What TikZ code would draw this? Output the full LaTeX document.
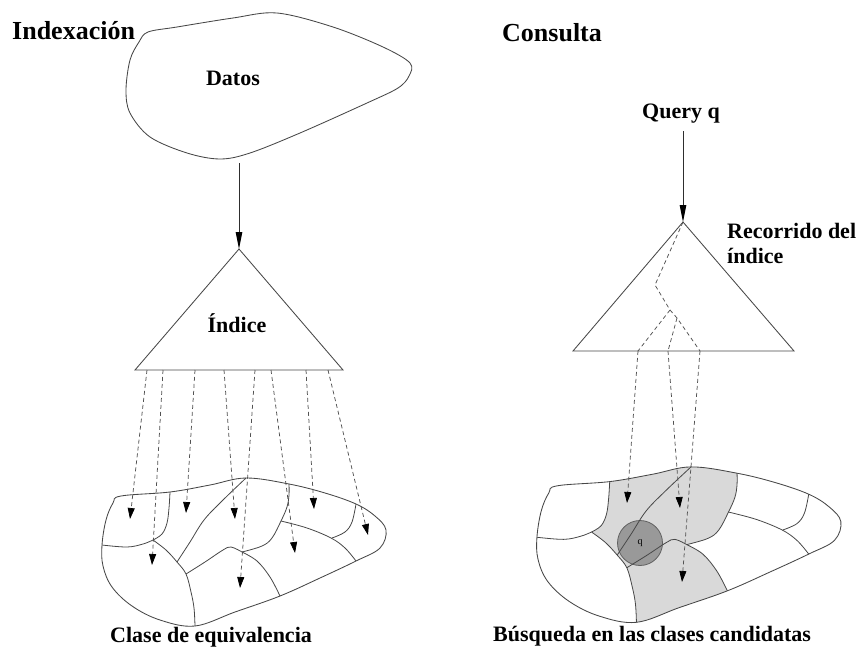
\documentclass[tikz,border=0pt]{standalone}
\usepackage{fontspec}
\setmainfont{Liberation Serif}
\usetikzlibrary{arrows.meta}

% Partition of the data space into equivalence classes (outline and cell borders)
\newcommand\blobclip{%
  \clip plot[smooth cycle, tension=0.6] coordinates {(121,496) (170,492) (210,485) (246,478) (289,484) (325,493) (356,504) (375,516) (386,530) (380,548) (356,561) (320,578) (280,596) (235,612) (195,626) (160,620) (132,606) (112,587) (103,566) (102,545) (106,520) (113,503)};}
\newcommand\blobcells{%
  \draw[outline] plot[smooth cycle, tension=0.6] coordinates {(121,496) (170,492) (210,485) (246,478) (289,484) (325,493) (356,504) (375,516) (386,530) (380,548) (356,561) (320,578) (280,596) (235,612) (195,626) (160,620) (132,606) (112,587) (103,566) (102,545) (106,520) (113,503)};
  \draw[cell] plot[smooth, tension=0.6] coordinates {(170,492) (169,508) (167,523) (162,534) (153,540)};
  \draw[cell] plot[smooth, tension=0.6] coordinates {(102,545) (127,547) (143,544) (153,540)};
  \draw[cell] plot[smooth, tension=0.6] coordinates {(153,540) (166,550) (177,562) (186,574) (191,592) (194,608) (195,626)};
  \draw[cell] plot[smooth, tension=0.6] coordinates {(246,478) (222,501) (204,520) (190,542) (177,562)};
  \draw[cell] plot[smooth, tension=0.6] coordinates {(186,574) (205,562) (223,550) (231,547) (242,552)};
  \draw[cell] plot[smooth, tension=0.6] coordinates {(242,552) (257,561) (270,577) (280,596)};
  \draw[cell] plot[smooth, tension=0.6] coordinates {(242,552) (262,546) (272,538) (281,521) (287,507) (289,495) (289,484)};
  \draw[cell] plot[smooth, tension=0.6] coordinates {(281,521) (307,528) (331,538) (345,548) (356,561)};
  \draw[cell] plot[smooth, tension=0.6] coordinates {(332,538) (345,532) (352,522) (356,504)};
}

\begin{document}
\begin{tikzpicture}[x=1pt, y=-1pt,
  outline/.style={draw=black!72, line width=0.85pt},
  cell/.style={draw=black!72, line width=0.8pt},
  candidate/.style={fill=black!15},
  flow/.style={draw=black!82, line width=0.9pt, -{Triangle[length=17pt, width=6.5pt, color=black]}},
  probe/.style={draw=black!68, line width=0.75pt, dash pattern=on 4pt off 3pt, -{Triangle[length=11pt, width=7pt, color=black]}},
  walk/.style={draw=black!68, line width=0.75pt, dash pattern=on 4pt off 3pt},
  heading/.style={font=\fontsize{26}{30}\selectfont\bfseries, inner sep=0pt},
  caption/.style={font=\fontsize{22}{26}\selectfont\bfseries, inner sep=0pt},
  rightblob/.style={shift={(427.8,-35)}, xscale=1.07, yscale=1.05},
]
\useasboundingbox (0,0) rectangle (859,648);

% ---------- headings ----------
\node[heading, anchor=base west] (hidx) at (12,39) {Indexación};
\node[heading, anchor=base west] (hqry) at (502,41) {Consulta};

% ---------- data set ----------
\draw[outline] plot[smooth cycle, tension=0.55] coordinates {(148,32) (177,27) (233,18) (277,13) (333,27) (383,47) (410,63) (409,76) (398,88) (367,103) (300,133) (250,153) (220,159) (187,153) (150,137) (130,113) (126,90) (130,60) (139,42)};
\node[caption, anchor=base] (datos) at (233,85) {Datos};
\coordinate (datosout) at (239,163);

% ---------- index (left) ----------
\coordinate (ia) at (239,249);
\coordinate (il) at (135,370);
\coordinate (ir) at (343,370);
\draw[outline] (ia) -- (il) -- (ir) -- cycle;
\node[caption, anchor=base] (indice) at (237,332) {Índice};
\draw[flow] (datosout) -- (ia);

% leaves of the index pointing to their classes
\foreach \i/\sx/\tx/\ty in {1/147/130/519, 2/163/152/565, 3/195/186/513, 4/224/235/519,
                            5/255/240/588, 6/271/295/553, 7/306/314/509, 8/328/368/535} {
  \coordinate (leaf\i) at (\sx,370);
  \coordinate (cls\i) at (\tx,\ty);
}

% ---------- equivalence classes (left) ----------
\blobcells
\foreach \i in {1,...,8} { \draw[probe] (leaf\i) -- (cls\i); }
\node[caption, anchor=base west] (clase) at (110,642) {Clase de equivalencia};

% ---------- query (right) ----------
\node[caption, anchor=base] (query) at (681,118) {Query q};
\coordinate (qout) at (683,131);
\coordinate (qa) at (683,222);
\coordinate (ql) at (573,351);
\coordinate (qr) at (794,351);
\draw[outline] (qa) -- (ql) -- (qr) -- cycle;
\draw[flow] (qout) -- (qa);
\node[caption, anchor=base west] (rec1) at (727,238) {Recorrido del};
\node[caption, anchor=base west] (rec2) at (727,263) {índice};

% ---------- candidate classes (right) ----------
\begin{scope}[rightblob]
  \blobclip
  \fill[candidate] plot[smooth, tension=0.6] coordinates {(170,492) (169,508) (167,523) (162,534) (153,540)}
     -- plot[smooth, tension=0.6] coordinates {(153,540) (166,550) (177,562)}
     -- plot[smooth, tension=0.6] coordinates {(177,562) (190,542) (204,520) (222,501) (246,478)}
     -- (246,440) -- (170,440) -- cycle;
  \fill[candidate] plot[smooth, tension=0.6] coordinates {(246,478) (222,501) (204,520) (190,542) (177,562)}
     -- (186,574)
     -- plot[smooth, tension=0.6] coordinates {(186,574) (205,562) (223,550) (231,547) (242,552)}
     -- plot[smooth, tension=0.6] coordinates {(242,552) (262,546) (272,538) (281,521) (287,507) (289,495) (289,484)}
     -- (289,440) -- (246,440) -- cycle;
  \fill[candidate] plot[smooth, tension=0.6] coordinates {(186,574) (205,562) (223,550) (231,547) (242,552)}
     -- plot[smooth, tension=0.6] coordinates {(242,552) (257,561) (270,577) (280,596)}
     -- (280,660) -- (195,660) -- (195,626)
     -- plot[smooth, tension=0.6] coordinates {(195,626) (194,608) (191,592) (186,574)}
     -- cycle;
\end{scope}

% query ball
\node[circle, draw=black!62, line width=0.8pt, fill=black!40, minimum size=45pt, inner sep=0pt,
      font=\fontsize{10}{12}\selectfont] (qball) at (640,543) {q};

\begin{scope}[rightblob]
  \blobcells
\end{scope}

% traversal of the index down to the candidate classes
\coordinate (k1) at (655,285);
\coordinate (k2) at (670,310);
\coordinate (k3) at (677,318);
\coordinate (b1) at (638,351);
\coordinate (b2) at (668,351);
\coordinate (b3) at (700,351);
\coordinate (cand1) at (627,503);
\coordinate (cand2) at (680,508);
\coordinate (cand3) at (682,582);
\draw[walk] (qa) -- (k1) -- (k2) -- (k3) -- (b3);
\draw[walk] (k2) -- (b1);
\draw[walk] (k3) -- (b2);
\draw[probe] (b1) -- (cand1);
\draw[probe] (b2) -- (cand2);
\draw[probe] (b3) -- (cand3);

\node[caption, anchor=base west] (busq) at (493,641) {Búsqueda en las clases candidatas};
\end{tikzpicture}
\end{document}
